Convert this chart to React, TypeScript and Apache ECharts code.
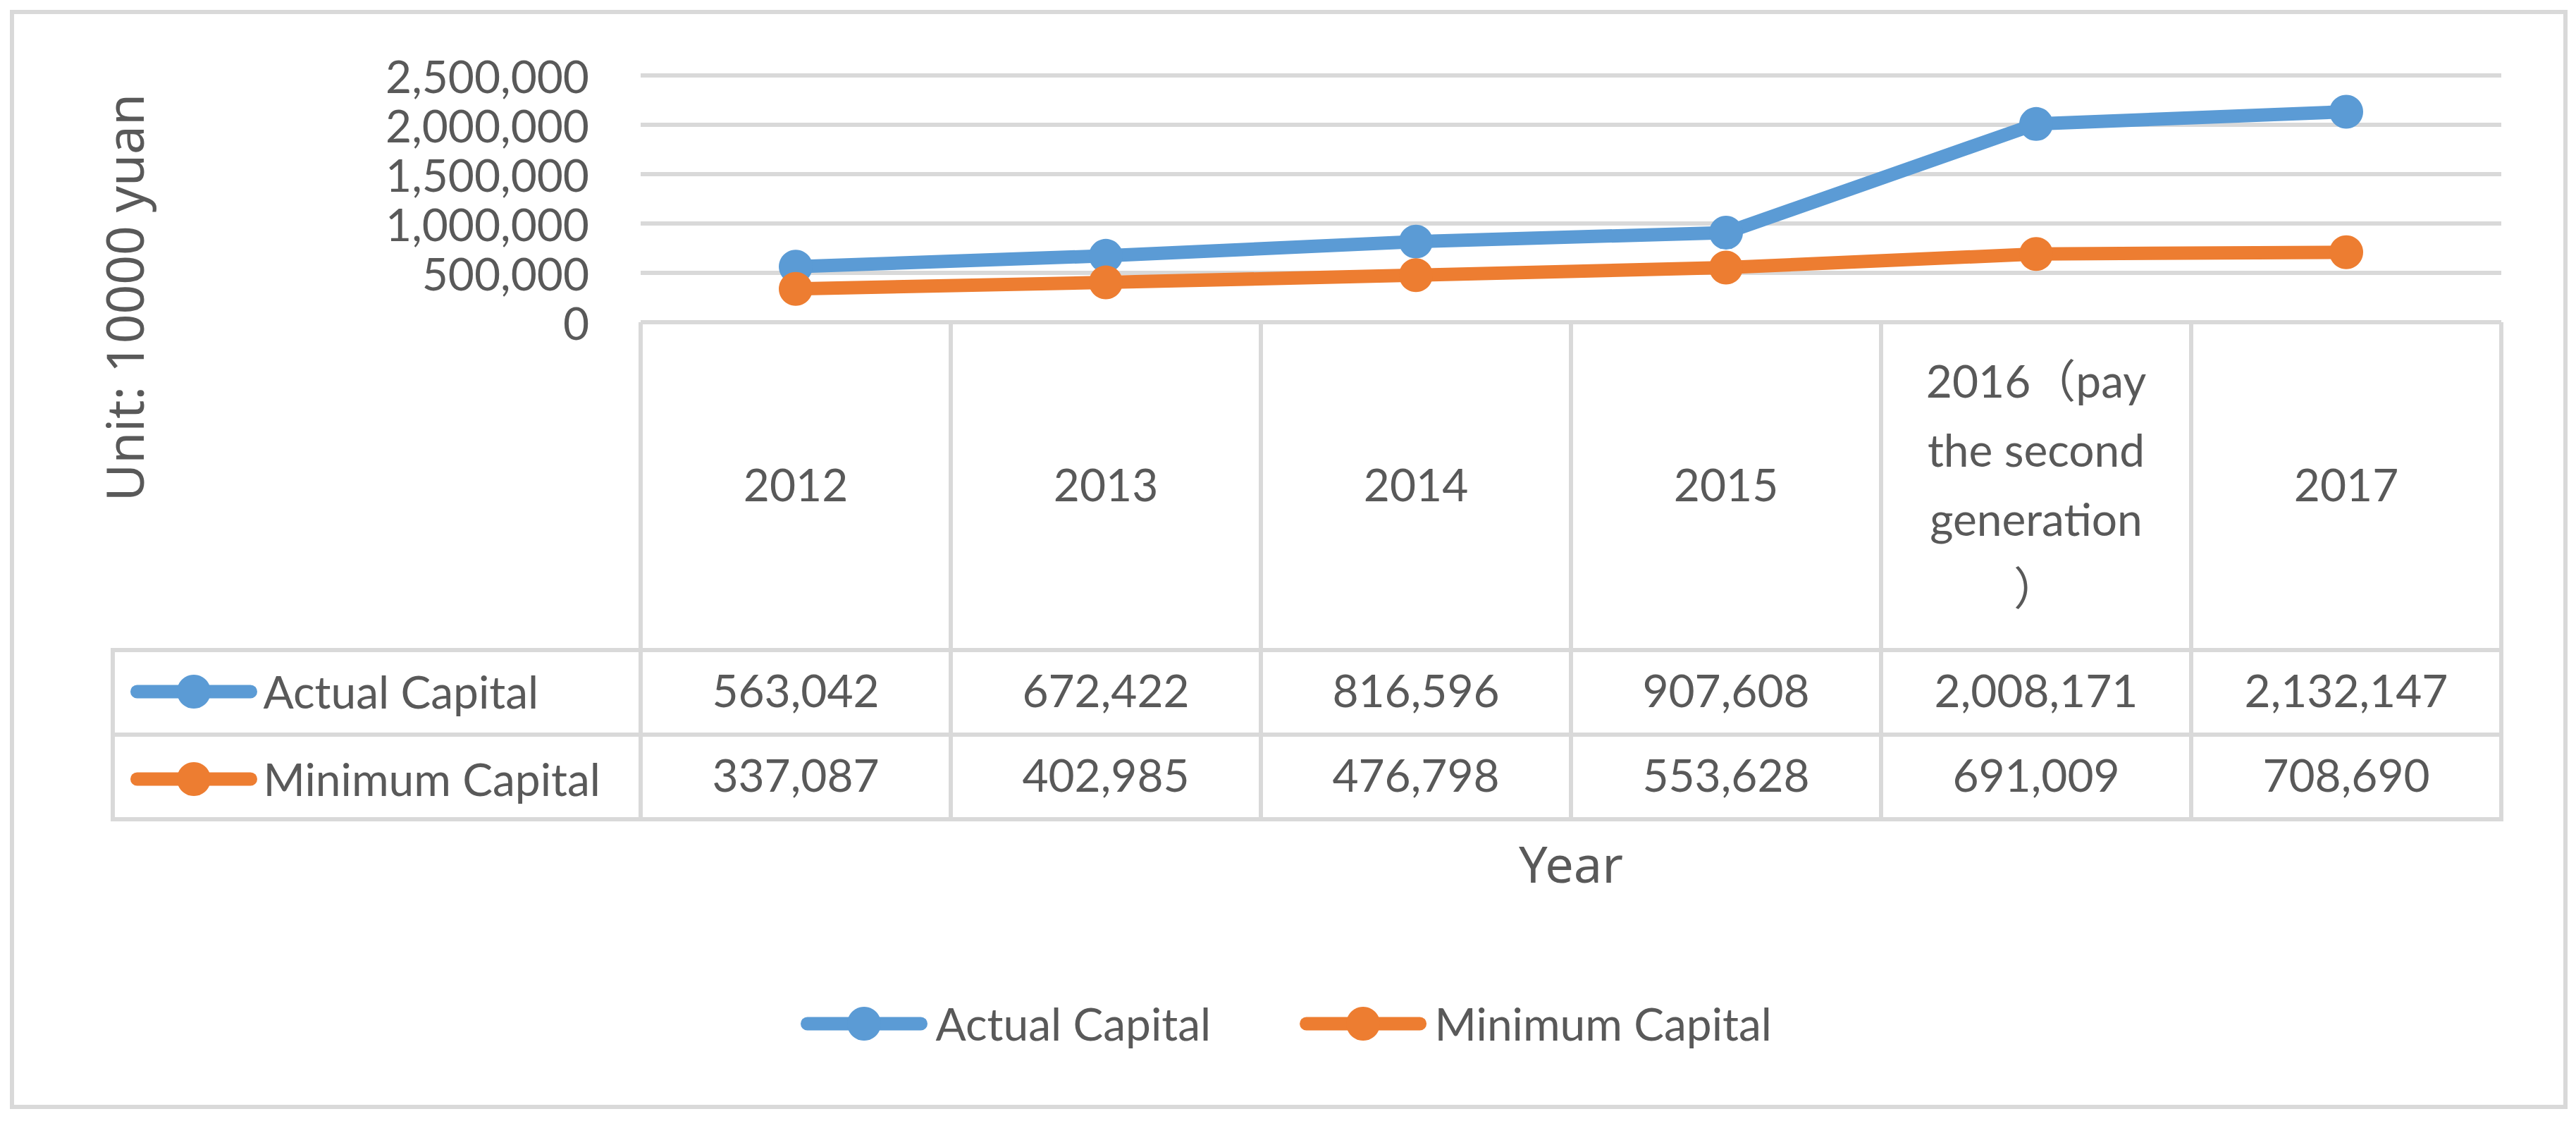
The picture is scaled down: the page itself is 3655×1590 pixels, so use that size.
import React, { useEffect, useRef } from "react";
import * as echarts from "echarts";

// ---------- data ----------
const categories = ["2012", "2013", "2014", "2015", "2016（pay\nthe second\ngeneration\n）", "2017"];
const actualCapital = [563042, 672422, 816596, 907608, 2008171, 2132147];
const minimumCapital = [337087, 402985, 476798, 553628, 691009, 708690];
const seriesNames = ["Actual Capital", "Minimum Capital"];
const yMin = 0;
const yMax = 2500000;
const yStep = 500000;
const yAxisTitle = "Unit: 10000 yuan";
const xAxisTitle = "Year";

const fmt = (v: number) => Number(v).toLocaleString("en-US");

export default function App() {
  const ref = useRef<HTMLDivElement>(null);

  useEffect(() => {
    if (!ref.current) return;
    const chart = echarts.init(ref.current, null, { renderer: "svg" });

    const FONT = "Lato, 'Noto Sans CJK SC', sans-serif";
    const TITLE_FONT = "'Noto Sans', 'Noto Sans CJK SC', sans-serif";
    const TEXT = "#595959";
    const GRID = "#D9D9D9";
    const BLUE = "#5B9BD5";
    const ORANGE = "#ED7D31";

    const gridLeft = 909;
    const gridRight = 3549;
    const gridTop = 107;
    const gridBottom = 457;
    const rowTop = 922;
    const rowMid = 1042;
    const rowBottom = 1162;
    const tableLeft = 160;

    const labelBase = { fontFamily: FONT, fontSize: 64, color: TEXT };

    chart.setOption({
      animation: false,
      backgroundColor: "#ffffff",
      grid: {
        left: gridLeft,
        top: gridTop,
        width: gridRight - gridLeft,
        height: gridBottom - gridTop,
        containLabel: false,
      },
      xAxis: [
        {
          type: "category",
          data: categories,
          position: "bottom",
          axisLine: { show: false },
          axisTick: {
            show: true,
            interval: 0,
            length: rowBottom - gridBottom + 3,
            lineStyle: { color: GRID, width: 6 },
          },
          axisLabel: {
            ...labelBase,
            interval: 0,
            margin: 229,
            verticalAlign: "middle",
            lineHeight: 98,
            align: "center",
          },
          splitLine: { show: false },
        },
        {
          type: "category",
          data: actualCapital.map(fmt),
          position: "bottom",
          axisLine: { show: false },
          axisTick: { show: false },
          axisLabel: { ...labelBase, interval: 0, margin: (rowTop + rowMid) / 2 - gridBottom - 4, verticalAlign: "middle" },
          splitLine: { show: false },
        },
        {
          type: "category",
          data: minimumCapital.map(fmt),
          position: "bottom",
          axisLine: { show: false },
          axisTick: { show: false },
          axisLabel: { ...labelBase, interval: 0, margin: (rowMid + rowBottom) / 2 - gridBottom - 4, verticalAlign: "middle" },
          splitLine: { show: false },
        },
      ],
      yAxis: {
        type: "value",
        min: yMin,
        max: yMax,
        interval: yStep,
        axisLine: { show: false },
        axisTick: { show: false },
        splitLine: { show: true, lineStyle: { color: GRID, width: 6 } },
        axisLabel: { ...labelBase, margin: 73, formatter: (v: number) => fmt(v) },
      },
      legend: [
        {
          data: seriesNames,
          left: 1136,
          top: 1420,
          padding: 0,
          orient: "horizontal",
          itemWidth: 161,
          itemHeight: 60,
          itemGap: 126,
          selectedMode: false,
          lineStyle: { width: 19, cap: "round" },
          textStyle: { ...labelBase, lineHeight: 60, padding: [0, 0, 0, 16] },
        },
        {
          data: seriesNames,
          left: 185,
          top: 949,
          padding: 0,
          orient: "vertical",
          itemWidth: 161,
          itemHeight: 60,
          itemGap: 60,
          selectedMode: false,
          lineStyle: { width: 19, cap: "round" },
          textStyle: { ...labelBase, lineHeight: 60, padding: [0, 0, 0, 13] },
        },
      ],
      series: [
        {
          name: seriesNames[0],
          type: "line",
          data: actualCapital,
          xAxisIndex: 0,
          symbol: "circle",
          symbolSize: 48,
          lineStyle: { width: 19, color: BLUE },
          itemStyle: { color: BLUE },
          z: 3,
        },
        {
          name: seriesNames[1],
          type: "line",
          data: minimumCapital,
          xAxisIndex: 0,
          symbol: "circle",
          symbolSize: 48,
          lineStyle: { width: 19, color: ORANGE },
          itemStyle: { color: ORANGE },
          z: 4,
        },
      ],
      graphic: [
        {
          type: "rect",
          shape: { x: 17, y: 17, width: 3623, height: 1553 },
          style: { fill: "none", stroke: GRID, lineWidth: 6 },
          z: 0,
        },
        {
          type: "line",
          shape: { x1: tableLeft - 3, y1: rowTop, x2: gridRight + 3, y2: rowTop },
          style: { stroke: GRID, lineWidth: 6 },
        },
        {
          type: "line",
          shape: { x1: tableLeft - 3, y1: rowMid, x2: gridRight + 3, y2: rowMid },
          style: { stroke: GRID, lineWidth: 6 },
        },
        {
          type: "line",
          shape: { x1: tableLeft - 3, y1: rowBottom, x2: gridRight + 3, y2: rowBottom },
          style: { stroke: GRID, lineWidth: 6 },
        },
        {
          type: "line",
          shape: { x1: tableLeft, y1: rowTop, x2: tableLeft, y2: rowBottom },
          style: { stroke: GRID, lineWidth: 6 },
        },
        {
          type: "text",
          x: 175,
          y: 422,
          rotation: Math.PI / 2,
          style: {
            text: yAxisTitle,
            fontFamily: TITLE_FONT,
            fontSize: 73,
            fill: TEXT,
            textAlign: "center",
            textVerticalAlign: "middle",
          },
        },
        {
          type: "text",
          x: (gridLeft + gridRight) / 2,
          y: 1224,
          style: {
            text: xAxisTitle,
            fontFamily: TITLE_FONT,
            fontSize: 72,
            fill: TEXT,
            textAlign: "center",
            textVerticalAlign: "middle",
          },
        },
      ],
    });

    return () => {
      chart.dispose();
    };
  }, []);

  return (
    <div
      ref={ref}
      style={{ position: "absolute", left: 0, top: 0, width: 3655, height: 1590, background: "#fff" }}
    />
  );
}
